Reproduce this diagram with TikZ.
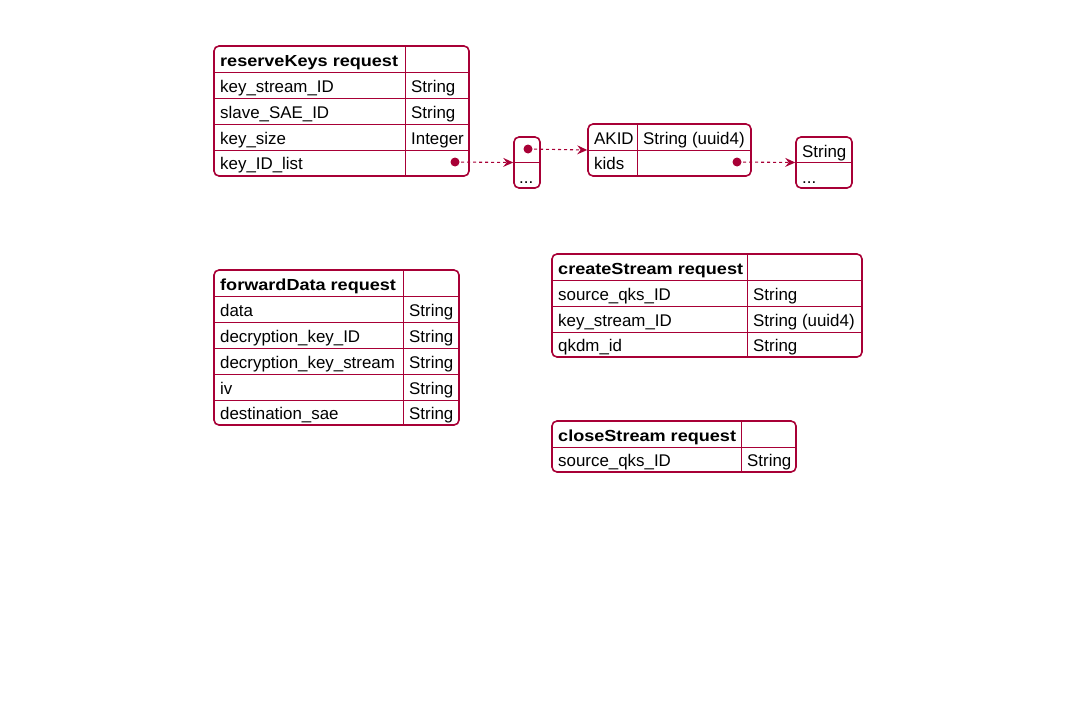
\documentclass[tikz,border=0pt]{standalone}
\usepackage{fontspec}
\usepackage{graphicx}
\setmainfont{Liberation Sans}
\usetikzlibrary{arrows.meta}
\definecolor{pu}{HTML}{A80036}
\newcommand\jbox[5]{% name, x1, y1, x2, y2
  \node[tbl, minimum width={#4-#2}, minimum height={#5-#3}] (#1) at ({(#2+#4)/2},{(#3+#5)/2}) {};}
\newcommand\hd[1]{\scalebox{1.13}[1]{#1}}
\begin{document}
\begin{tikzpicture}[x=1pt,y=-1pt,
  tbl/.style={draw=pu, line width=1.6pt, rounded corners=5pt, inner sep=0pt, fill=white},
  gridl/.style={draw=pu, line width=1pt},
  txt/.style={anchor=base west, inner sep=0pt, font=\fontsize{16.9}{19}\selectfont},
  hdr/.style={txt, font=\fontsize{16}{18}\selectfont\bfseries},
  dotm/.style={fill=pu},
  link/.style={draw=pu, line width=1.1pt, dash pattern=on 3pt off 3pt, -{Stealth[length=10pt,width=9pt,inset=3.5pt]}}]
\useasboundingbox (0,0) rectangle (1091,720);

% reserveKeys request
\jbox{rk}{214}{46}{469}{176}
\foreach \y in {72,98,124,150} \draw[gridl] (214,\y) -- (469,\y);
\draw[gridl] (405,46) -- (405,176);
\node[hdr] (rkh) at (220,66) {\hd{reserveKeys request}};
\node[txt] (rk1) at (220,92) {key\_stream\_ID};
\node[txt] (rk1t) at (411,92) {String};
\node[txt] (rk2) at (220,118) {slave\_SAE\_ID};
\node[txt] (rk2t) at (411,118) {String};
\node[txt] (rk3) at (220,144) {key\_size};
\node[txt] (rk3t) at (411,144) {Integer};
\node[txt] (rk4) at (220,169.5) {key\_ID\_list};
\coordinate (d1) at (455,162);

% list box
\jbox{l1}{514}{137}{540}{188}
\draw[gridl] (514,162) -- (540,162);
\coordinate (d2) at (528,149);
\node[txt] (l1e) at (519,183) {...};

% AKID box
\jbox{ak}{588}{124}{751}{176}
\draw[gridl] (588,150) -- (751,150);
\draw[gridl] (637,124) -- (637,176);
\node[txt] (ak1) at (594,144) {AKID};
\node[txt] (ak1t) at (643,144) {String (uuid4)};
\node[txt] (ak2) at (594,169.5) {kids};
\coordinate (d3) at (737,162);

% String list box
\jbox{sl}{796}{137}{852}{188}
\draw[gridl] (796,162) -- (852,162);
\node[txt] (sl1) at (802,157) {String};
\node[txt] (sl2) at (802,183) {...};

% connectors
\draw[link] (d1) -- (l1.west);
\draw[link] (d2) -- (ak.west);
\draw[link] (d3) -- (sl.west);
\fill[dotm] (d1) circle (4.5);
\fill[dotm] (d2) circle (4.5);
\fill[dotm] (d3) circle (4.5);

% forwardData request
\jbox{fd}{214}{270}{459}{425}
\foreach \y in {296,322,348,374,400} \draw[gridl] (214,\y) -- (459,\y);
\draw[gridl] (403,270) -- (403,425);
\node[hdr] (fdh) at (220,290) {\hd{forwardData request}};
\node[txt] (fd1) at (220,316) {data};
\node[txt] (fd1t) at (409,316) {String};
\node[txt] (fd2) at (220,342) {decryption\_key\_ID};
\node[txt] (fd2t) at (409,342) {String};
\node[txt] (fd3) at (220,368) {decryption\_key\_stream};
\node[txt] (fd3t) at (409,368) {String};
\node[txt] (fd4) at (220,394) {iv};
\node[txt] (fd4t) at (409,394) {String};
\node[txt] (fd5) at (220,419) {destination\_sae};
\node[txt] (fd5t) at (409,419) {String};

% createStream request
\jbox{cs}{552}{254}{862}{357}
\foreach \y in {280,306,332} \draw[gridl] (552,\y) -- (862,\y);
\draw[gridl] (747,254) -- (747,357);
\node[hdr] (csh) at (558,274) {\hd{createStream request}};
\node[txt] (cs1) at (558,300) {source\_qks\_ID};
\node[txt] (cs1t) at (753,300) {String};
\node[txt] (cs2) at (558,326) {key\_stream\_ID};
\node[txt] (cs2t) at (753,326) {String (uuid4)};
\node[txt] (cs3) at (558,351.5) {qkdm\_id};
\node[txt] (cs3t) at (753,351.5) {String};

% closeStream request
\jbox{cl}{552}{421}{796}{472}
\draw[gridl] (552,447) -- (796,447);
\draw[gridl] (741,421) -- (741,472);
\node[hdr] (clh) at (558,441) {\hd{closeStream request}};
\node[txt] (cl1) at (558,466.5) {source\_qks\_ID};
\node[txt] (cl1t) at (747,466.5) {String};
\end{tikzpicture}
\end{document}
